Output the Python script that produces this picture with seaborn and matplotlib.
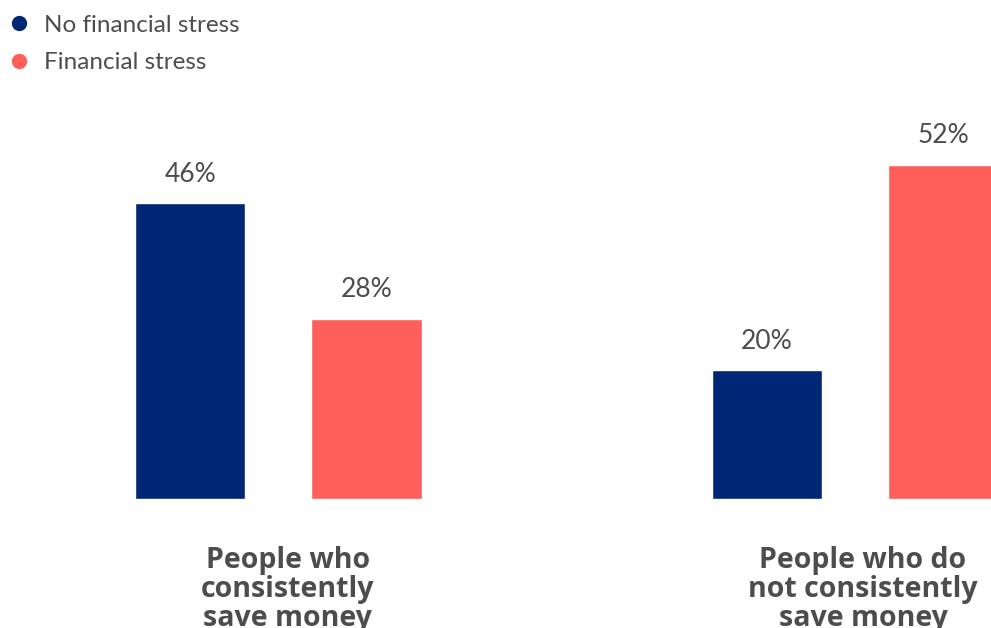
import matplotlib
matplotlib.use("Agg")
import matplotlib.pyplot as plt
from matplotlib.lines import Line2D
import seaborn as sns
import pandas as pd

groups = ["People who\nconsistently\nsave money", "People who do\nnot consistently\nsave money"]
series = ["No financial stress", "Financial stress"]
no_stress = [46, 20]
stress = [28, 52]
colors = ["#002776", "#FF5F5B"]

df = pd.DataFrame({
    "group": groups * 2,
    "series": [series[0]] * 2 + [series[1]] * 2,
    "value": no_stress + stress,
})

sns.set_theme(style="white")
plt.rcParams["font.family"] = ["Lato", "DejaVu Sans"]
text_color = "#4D4D4D"

W, H = 991, 628
fig = plt.figure(figsize=(W / 100, H / 100), dpi=100)
bottom_px, top_px = 499, 100
ax = fig.add_axes([0, 1 - bottom_px / H, 1, (bottom_px - top_px) / H])

sns.barplot(data=df, x="group", y="value", hue="series", hue_order=series,
            palette=colors, width=0.611, gap=0.375, saturation=1,
            legend=False, ax=ax)

ax.set_xlim(-0.483, 1.236)
ax.set_ylim(0, (bottom_px - top_px) / 6.43)
for c in ax.containers:
    ax.bar_label(c, labels=[f"{v:.0f}%" for v in c.datavalues], padding=12,
                 fontsize=19, color=text_color, fontweight="normal")

ax.set_xlabel("")
ax.set_ylabel("")
ax.set_yticks([])
ax.set_xticks([])
for s in ax.spines.values():
    s.set_visible(False)

label_x = [0.016, 1.014]
for gx, g in zip(label_x, groups):
    ax.text(gx, -0.118, g, transform=ax.get_xaxis_transform(), ha="center", va="top",
            fontsize=20.5, fontweight="bold", color=text_color, linespacing=1.0,
            family=["Open Sans", "DejaVu Sans"])

handles = [Line2D([], [], marker="o", linestyle="", markersize=10,
                  markerfacecolor=c, markeredgecolor=c) for c in colors]
leg = fig.legend(handles, series, loc="upper left", bbox_to_anchor=(-0.01, 1.004),
                 frameon=False, handletextpad=0.5,
                 labelspacing=0.68, borderaxespad=0.3, handlelength=1.0,
                 prop={"weight": "normal", "size": 17.5})
for t in leg.get_texts():
    t.set_color(text_color)

fig.savefig("out.png", dpi=100)
